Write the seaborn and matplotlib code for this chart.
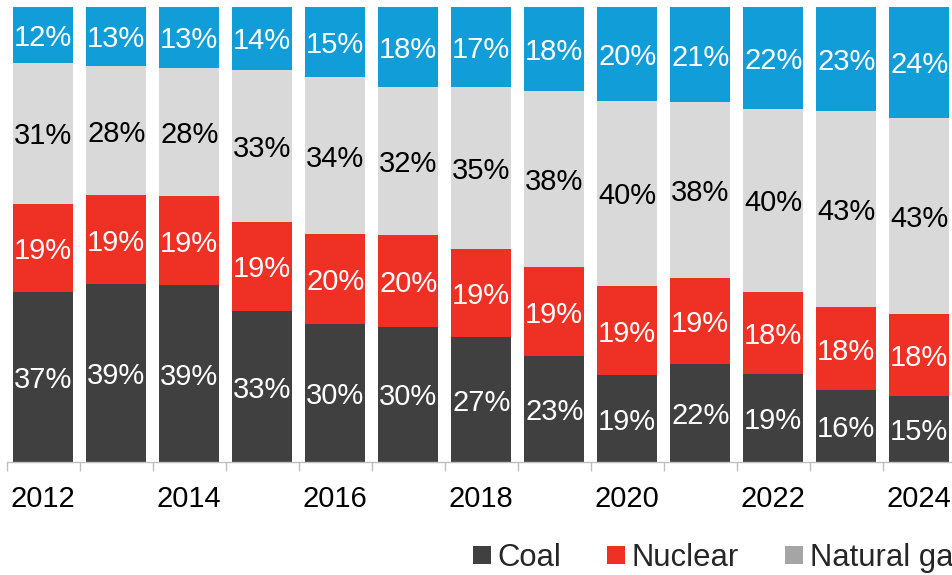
import numpy as np
import pandas as pd
import matplotlib
matplotlib.use("Agg")
import matplotlib.pyplot as plt
import seaborn as sns
from matplotlib.lines import Line2D

# ---- data (shares, %) ----
years = [2012, 2013, 2014, 2015, 2016, 2017, 2018, 2019, 2020, 2021, 2022, 2023, 2024]
coal = [37.44, 39.07, 38.76, 33.21, 30.42, 29.76, 27.35, 23.18, 19.01, 21.64, 19.32, 15.80, 14.62]
nuclear = [19.25, 19.45, 19.45, 19.45, 19.69, 19.98, 19.25, 19.45, 19.45, 18.88, 18.06, 18.35, 17.86]
natural_gas = [31.02, 28.31, 28.09, 33.30, 34.39, 32.45, 35.45, 38.45, 40.45, 38.45, 39.95, 42.96, 43.16]
renewables = [12.29, 13.02, 13.45, 13.89, 15.45, 17.69, 17.45, 18.45, 20.48, 20.98, 22.45, 22.89, 24.36]
series_names = ["Coal", "Nuclear", "Natural gas", "Renewables"]
legend_names = ["Coal", "Nuclear", "Natural gas"]
tick_labels = ["2012", "", "2014", "", "2016", "", "2018", "", "2020", "", "2022", "", "2024"]

# ---- styles ----
bar_colors = ["#404040", "#EF3125", "#D9D9D9", "#119DD8"]
legend_colors = ["#404040", "#EF3125", "#A5A5A5"]
label_colors = ["white", "white", "black", "white"]

sns.set_theme(style="white")
plt.rcParams["font.family"] = ["Liberation Sans", "DejaVu Sans"]

df = pd.DataFrame({"year": years, "Coal": coal, "Nuclear": nuclear,
                   "Natural gas": natural_gas, "Renewables": renewables})
totals = df[series_names].sum(axis=1)
shares = df[series_names].div(totals, axis=0) * 100
cum = shares.cumsum(axis=1)
bottoms = cum - shares
plot_df = pd.concat([df[["year"]], cum.add_prefix("cum_")], axis=1)

fig = plt.figure(figsize=(9.53, 5.75), dpi=100)
ax = fig.add_axes([0.00703, 0.196, 0.9958, 0.7923])

# draw from the top series down so lower series overlay
for name, col in reversed(list(zip(series_names, bar_colors))):
    sns.barplot(data=plot_df, x="year", y="cum_" + name, color=col, saturation=1,
                width=0.83, errorbar=None, linewidth=0, ax=ax)

fs = 21
for j, name in enumerate(series_names):
    for i in range(len(years)):
        ax.text(i, bottoms[name].iloc[i] + shares[name].iloc[i] / 2,
                f"{df[name].iloc[i]:.0f}%", ha="center", va="center_baseline",
                color=label_colors[j], fontsize=fs)

ax.set_ylim(0, 100)
ax.set_xlim(-0.5, len(years) - 0.5)
ax.set_xlabel("")
ax.set_ylabel("")
ax.set_yticks([])
ax.set_xticks(range(len(years)))
ax.set_xticklabels(tick_labels, fontsize=fs, color="black")
ax.set_xticks(np.arange(-0.5, len(years), 1.0), minor=True)
ax.tick_params(axis="x", which="major", length=0, pad=16)
ax.tick_params(axis="x", which="minor", length=6.5, width=1, color="#BFBFBF",
               direction="out", bottom=True)
for s in ["left", "top", "right"]:
    ax.spines[s].set_visible(False)
ax.spines["bottom"].set_color("#BFBFBF")
ax.spines["bottom"].set_linewidth(1)

handles = [Line2D([], [], marker="s", linestyle="", markersize=13,
                  markerfacecolor=c, markeredgewidth=0) for c in legend_colors]
fig.legend(handles, legend_names, loc="center left", bbox_to_anchor=(473 / 953, 0.030),
           ncol=3, frameon=False, fontsize=22.3, handlelength=0.58, handletextpad=0.2,
           columnspacing=1.5, borderpad=0, borderaxespad=0)

fig.savefig("out.png", dpi=100)
